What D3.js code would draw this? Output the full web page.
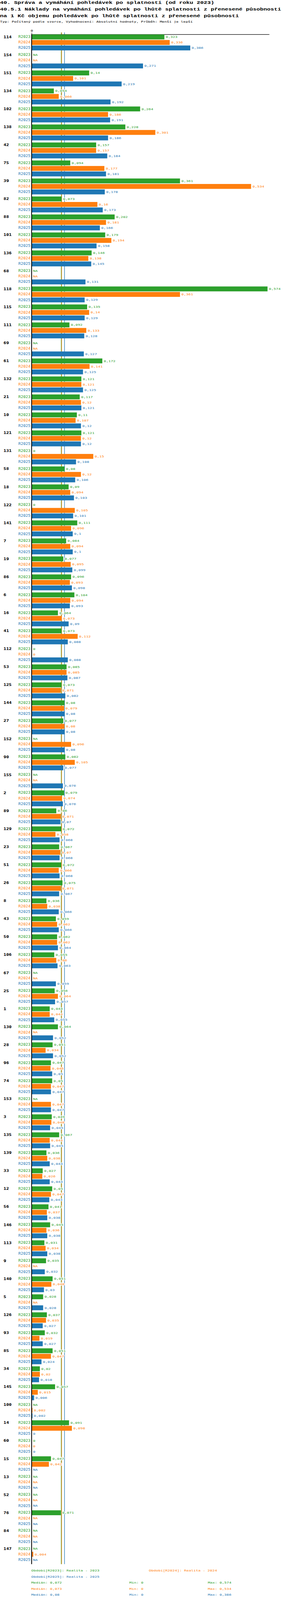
<!DOCTYPE html>
<html>
<head>
<meta charset="utf-8">
<script src="https://cdn.jsdelivr.net/npm/d3@7"></script>
<style>
  body { margin: 0; background: #fff; overflow: hidden; }
  svg { display: block; }
  svg text { font-family: "DejaVu Sans Mono", monospace; }
  .title { font-family: "Liberation Mono", monospace; font-weight: bold; font-size: 15px; }
</style>
</head>
<body>
<div id="chart"></div>
<script>
// chart data
var categories = ["114","154","151","134","102","138","42","75","39","82",
  "88","101","136","68","118","115","111","69","61","132",
  "21","10","121","131","58","18","122","141","7","19",
  "86","6","16","41","112","53","125","144","27","152",
  "90","155","2","89","129","23","51","26","8","43",
  "50","106","67","25","1","130","28","96","74","153",
  "3","135","139","33","12","56","146","113","9","140",
  "5","126","93","85","34","145","100","14","60","15",
  "13","52","76","84","147"];

var r2023 = [0.323,null,0.14,0.054,0.264,0.228,0.157,0.094,0.361,0.073,
  0.202,0.179,0.146,null,0.574,0.135,0.092,null,0.172,0.121,
  0.117,0.11,0.121,0,0.08,0.09,0,0.111,0.084,0.077,
  0.096,0.104,0.064,0.073,0,0.085,0.073,0.08,0.077,null,
  0.082,null,0.079,0.06,0.072,0.067,0.072,0.075,0.036,0.059,
  0.062,0.055,null,0.056,0.044,0.064,0.051,0.047,0.05,null,
  0.049,0.067,0.036,0.027,0.05,0.041,0.045,0.031,0.035,0.051,
  0.028,0.037,0.032,0.051,0.02,0.057,null,0.091,0,0.047,
  null,null,0.071,null,null];

var r2024 = [0.336,null,0.101,0.066,0.186,0.301,0.157,0.177,0.534,0.16,
  0.181,0.194,0.138,null,0.361,0.14,0.133,null,0.141,0.121,
  0.12,0.107,0.12,0.15,0.12,0.094,0.105,0.096,0.094,0.095,
  0.093,0.094,0.073,0.112,0,0.085,0.071,0.079,0.08,0.096,
  0.105,null,0.074,0.071,0.058,0.07,0.066,0.071,0.038,0.062,
  0.062,0.06,null,0.064,0.044,null,0.034,0.046,0.047,0.047,
  0.048,0.044,0.038,0.026,0.047,0.037,0.036,0.034,null,0.048,
  null,0.035,0.019,0.047,0.02,0.015,0.002,0.098,0,0.042,
  null,null,null,null,0.004];

var r2025 = [0.386,0.271,0.219,0.192,0.191,0.186,0.184,0.181,0.178,0.173,
  0.166,0.158,0.145,0.131,0.129,0.129,0.128,0.127,0.125,0.125,
  0.121,0.12,0.12,0.108,0.106,0.103,0.101,0.1,0.1,0.099,
  0.098,0.093,0.09,0.088,0.088,0.087,0.082,0.08,0.08,0.08,
  0.077,0.076,0.076,0.07,0.068,0.068,0.068,0.067,0.066,0.066,
  0.064,0.063,0.059,0.057,0.055,0.052,0.052,0.05,0.047,0.047,
  0.045,0.045,0.044,0.044,0.043,0.038,0.038,0.038,0.032,0.03,
  0.028,0.027,0.027,0.024,0.018,0.006,0.002,0,0,null,
  null,null,null,null,null];

var years = ["R2023", "R2024", "R2025"];
var periodNames = ["Realita - 2023", "Realita - 2024", "Realita - 2025"];
var medians = [0.072, 0.073, 0.08];
var mins = [0, 0, 0];
var maxs = [0.574, 0.534, 0.386];
var colors = ["#2ca02c", "#ff7f0e", "#1f77b4"];

var titleLines = [
  "40. Správa a vymáhání pohledávek po splatnosti (od roku 2023)",
  "40.5.1 Náklady na vymáhání pohledávek po lhůtě splatnosti z přenesené působnosti",
  "na 1 Kč objemu pohledávek po lhůtě splatnosti z přenesené působnosti"
];
var subTitle = "Typ: Počítaný podle vzorce, Vyhodnocení: Absolutní hodnoty, Průběh: Menší je lepší";

var svgWidth = 750;
var svgHeight = 5334;
var plotLeft = 81, plotRight = 689, plotTop = 114.5, plotBottom = 5214.5;

// the window can come out shorter than the chart, so fit the drawing into it
var viewHeight = Math.min(svgHeight, window.innerHeight || svgHeight);

var series = [r2023, r2024, r2025];

var fmt = function(v) { return String(v).replace(".", ","); };

var svg = d3.select("#chart")
  .append("svg")
  .attr("width", svgWidth)
  .attr("height", viewHeight)
  .attr("viewBox", `0 0 ${svgWidth} ${svgHeight}`)
  .attr("preserveAspectRatio", "none");

// titles
svg.selectAll(".title")
  .data(titleLines)
  .enter()
  .append("text")
  .attr("class", "title")
  .attr("x", 0)
  .attr("y", (d, i) => 13 + i * 22)
  .text(d => d);

svg.append("text")
  .attr("x", 0)
  .attr("y", 76)
  .style("font-size", "10px")
  .text(subTitle);

// scales
var x = d3.scaleLinear()
  .domain([0, 0.578])
  .range([plotLeft, plotRight]);

var y0 = d3.scaleBand()
  .domain(categories)
  .range([plotTop, plotBottom]);

var y1 = d3.scaleBand()
  .domain(years)
  .range([0.5, 53.5])
  .paddingInner(0.11);

// median lines (behind bars)
svg.selectAll(".median")
  .data(medians)
  .enter()
  .append("line")
  .attr("x1", d => x(d))
  .attr("x2", d => x(d))
  .attr("y1", 108)
  .attr("y2", plotBottom)
  .attr("stroke", (d, i) => colors[i])
  .attr("stroke-width", 1.3);

// top axis
var topAxis = d3.axisTop(x).tickValues([0]).tickFormat(d3.format("d")).tickSize(6).tickSizeOuter(0);
var axisG = svg.append("g")
  .attr("transform", `translate(0, ${plotTop})`)
  .call(topAxis);
axisG.select(".domain").attr("stroke", "#000").attr("stroke-width", 1.5);
axisG.selectAll("text")
  .style("font-family", "DejaVu Sans Mono, monospace")
  .style("font-size", "10px")
  .attr("fill", "#000");

// one row per category and year
var rows = [];
categories.forEach(function(c, i) {
  years.forEach(function(yr, j) {
    rows.push({ cat: c, year: yr, k: j, value: series[j][i] });
  });
});

// bars
svg.selectAll(".bar")
  .data(rows.filter(d => d.value !== null && d.value > 0))
  .enter()
  .append("rect")
  .attr("x", x(0))
  .attr("y", d => y0(d.cat) + y1(d.year))
  .attr("width", d => x(d.value) - x(0))
  .attr("height", y1.bandwidth())
  .attr("fill", d => colors[d.k]);

// value labels
svg.selectAll(".val")
  .data(rows)
  .enter()
  .append("text")
  .attr("x", d => (d.value === null ? x(0) : x(d.value)) + 3.5)
  .attr("y", d => y0(d.cat) + y1(d.year) + y1.bandwidth() / 2)
  .attr("dy", "0.35em")
  .style("font-size", "10px")
  .attr("fill", d => colors[d.k])
  .attr("stroke", "#fff")
  .attr("stroke-width", 3)
  .style("paint-order", "stroke")
  .text(d => d.value === null ? "NA" : fmt(d.value));

// year labels
svg.selectAll(".yr")
  .data(rows)
  .enter()
  .append("text")
  .attr("x", 78)
  .attr("y", d => y0(d.cat) + y1(d.year) + y1.bandwidth() / 2)
  .attr("dy", "0.35em")
  .attr("text-anchor", "end")
  .style("font-size", "10.3px")
  .attr("fill", d => colors[d.k])
  .text(d => d.year);

// category labels
svg.selectAll(".cat")
  .data(categories)
  .enter()
  .append("text")
  .attr("x", 9)
  .attr("y", d => y0(d) + y1("R2023") + y1.bandwidth() / 2)
  .attr("dy", "0.35em")
  .style("font-size", "11.5px")
  .style("font-weight", "bold")
  .attr("fill", "#000")
  .text(d => d);

// left axis line
svg.append("line")
  .attr("x1", plotLeft)
  .attr("x2", plotLeft)
  .attr("y1", plotTop - 0.5)
  .attr("y2", plotBottom)
  .attr("stroke", "#000")
  .attr("stroke-width", 2);

// legend
var legendY = 5236;
var legendPos = [[80, legendY], [381, legendY], [80, legendY + 20]];
svg.selectAll(".leg")
  .data(years)
  .enter()
  .append("text")
  .attr("x", (d, i) => legendPos[i][0])
  .attr("y", (d, i) => legendPos[i][1])
  .attr("dy", "0.35em")
  .style("font-size", "10px")
  .attr("fill", (d, i) => colors[i])
  .text((d, i) => `Období[${d}]: ${periodNames[i]}`);

var stats = svg.selectAll(".stat")
  .data(years)
  .enter()
  .append("g")
  .attr("transform", (d, i) => `translate(0, ${legendY + 40 + i * 20})`)
  .attr("fill", (d, i) => colors[i])
  .style("font-size", "10px");

stats.append("text").attr("x", 80).attr("dy", "0.35em")
  .text((d, i) => "Medián: " + fmt(medians[i]));
stats.append("text").attr("x", 331).attr("dy", "0.35em")
  .text((d, i) => "Min: " + fmt(mins[i]));
stats.append("text").attr("x", 532).attr("dy", "0.35em")
  .text((d, i) => "Max: " + fmt(maxs[i]));
</script>
</body>
</html>
